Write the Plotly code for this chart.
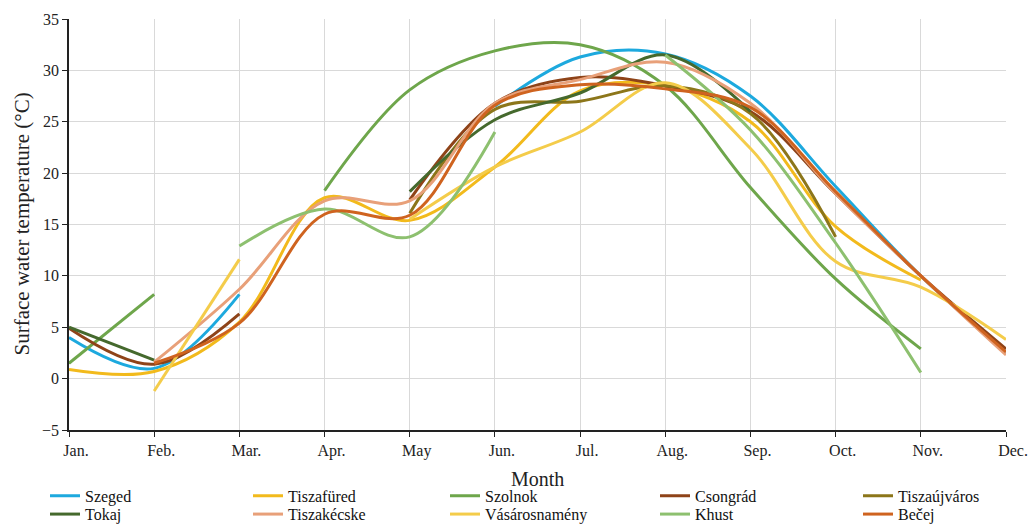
import plotly.graph_objects as go

months = ["Jan.", "Feb.", "Mar.", "Apr.", "May", "Jun.", "Jul.", "Aug.", "Sep.", "Oct.", "Nov.", "Dec."]

szeged        = [4.0, 1.0, 8.2, None, None, 26.5, 31.3, 31.6, 27.5, 18.7, 10.0, 2.6]
tiszafured    = [0.9, 0.7, 5.5, 17.6, 15.4, 20.6, 28.0, 28.5, 25.0, 14.8, 9.6, None]
szolnok       = [1.5, 8.2, None, 18.3, 28.1, 31.9, 32.5, 28.5, 18.6, 9.7, 2.9, None]
csongrad      = [4.9, 1.4, 6.3, None, 17.4, 26.8, 29.3, 28.5, 26.0, 18.0, 10.0, 2.9]
tiszaujvaros  = [None, None, None, None, 16.1, 26.2, 27.0, 28.5, 25.8, 13.8, None, None]
tokaj         = [5.0, 1.8, None, None, 18.2, 25.2, 27.8, 31.5, 26.0, None, None, None]
tiszakecske   = [None, 1.6, 8.7, 17.3, 17.3, 26.8, 29.1, 30.8, 26.8, 18.0, 10.0, 2.3]
vasarosnameny = [None, -1.2, 11.6, None, 15.5, 20.6, 24.0, 28.8, 22.4, 11.4, 8.9, 3.8]
khust         = [None, None, 12.9, 16.5, 13.8, 24.0, None, 31.5, 24.2, 13.2, 0.6, None]
becej         = [None, 1.5, 5.4, 16.0, 15.9, 26.6, 28.6, 28.2, 26.4, 18.2, 10.0, 2.6]

series = [
    ("Szeged", szeged, "#1DA9DE"),
    ("Tiszafüred", tiszafured, "#F2BA1C"),
    ("Szolnok", szolnok, "#6EA64B"),
    ("Csongrád", csongrad, "#8E4318"),
    ("Tiszaújváros", tiszaujvaros, "#8C761A"),
    ("Tokaj", tokaj, "#45692D"),
    ("Tiszakécske", tiszakecske, "#E8A079"),
    ("Vásárosnamény", vasarosnameny, "#F4CC4A"),
    ("Khust", khust, "#8DC06F"),
    ("Bečej", becej, "#CF631F"),
]

font_family = "Liberation Serif, Times New Roman, serif"
W, H = 1030, 525
ML, MR, MT, MB = 69, 24, 19, 95
PW, PH = W - ML - MR, H - MT - MB

# legend grid: 5 columns x 2 rows, one single-entry legend per trace
col_px = [45, 248, 445, 655, 858]
row_y = [0.088, 0.053]
legend_ids = ["legend"] + ["legend%d" % k for k in range(2, 11)]

fig = go.Figure()
for i, (name, vals, color) in enumerate(series):
    fig.add_trace(go.Scatter(
        x=list(range(len(months))), y=vals, name=name, mode="lines",
        line=dict(color=color, width=3, shape="spline", smoothing=1.0),
        connectgaps=False,
        legend=legend_ids[i],
    ))

legends = {}
for i, lid in enumerate(legend_ids):
    legends[lid] = dict(
        orientation="h", xref="container", yref="container",
        x=col_px[i % 5] / W, xanchor="left", y=row_y[i // 5], yanchor="top",
        font=dict(family=font_family, size=16, color="#111"),
        itemwidth=30, bgcolor="rgba(0,0,0,0)", tracegroupgap=0,
    )

fig.update_layout(
    width=W, height=H,
    margin=dict(l=ML, r=MR, t=MT, b=MB),
    paper_bgcolor="white", plot_bgcolor="white",
    font=dict(family=font_family, size=14, color="#222"),
    showlegend=True,
    **legends,
    xaxis=dict(
        range=[0, 11], tickmode="array", tickvals=list(range(12)), ticktext=months,
        showgrid=True, gridcolor="#D9D9D9", gridwidth=1,
        showline=True, linecolor="#222", linewidth=1.5,
        ticks="outside", ticklen=5, tickcolor="#222",
        ticklabelshift=7, automargin=False,
        tickfont=dict(size=16),
        zeroline=False, fixedrange=True,
    ),
    yaxis=dict(
        range=[-5, 35], dtick=5,
        showgrid=True, gridcolor="#D9D9D9", gridwidth=1,
        showline=True, linecolor="#222", linewidth=1.5,
        ticks="outside", ticklen=5, tickcolor="#222",
        automargin=False, tickfont=dict(size=16),
        zeroline=False, fixedrange=True,
    ),
    annotations=[
        dict(text="Month", xref="paper", x=0.5, xanchor="center",
             yref="paper", y=(H - MB - 479) / PH, yanchor="middle",
             showarrow=False, font=dict(family=font_family, size=20, color="#222")),
        dict(text="Surface water temperature (°C)", xref="paper", x=(21 - ML) / PW, xanchor="center",
             yref="paper", y=0.5, yanchor="middle", textangle=-90,
             showarrow=False, font=dict(family=font_family, size=21, color="#222")),
    ],
)

fig.write_html("out.html", config={"displayModeBar": False},
               post_script="document.body.style.margin='0';")
